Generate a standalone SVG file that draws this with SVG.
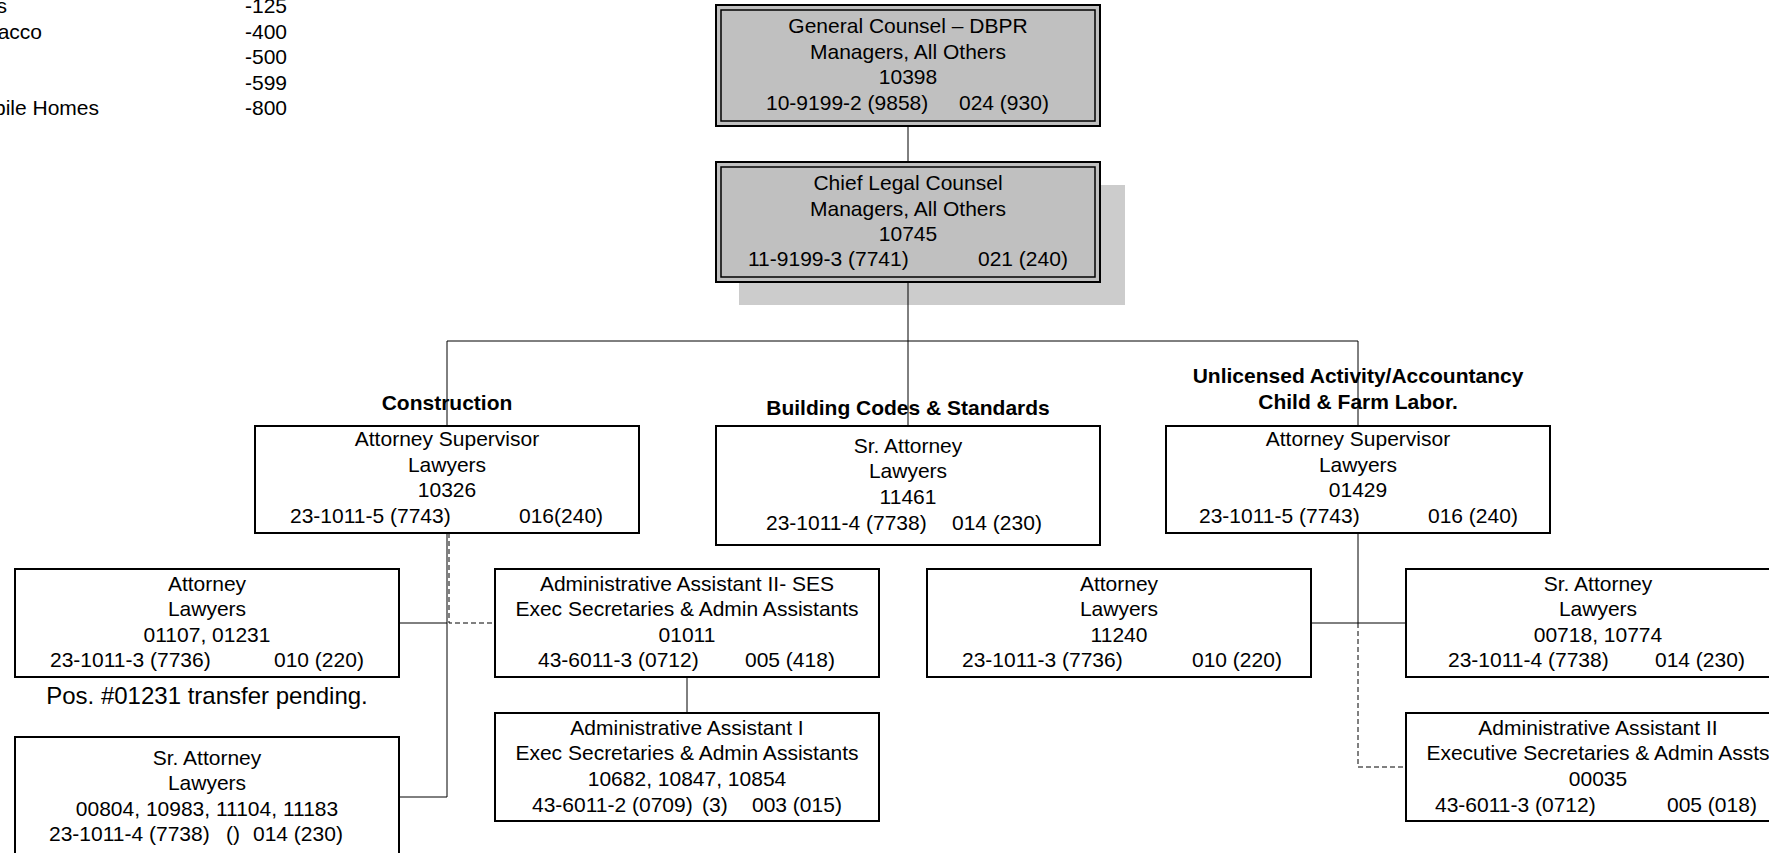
<svg xmlns="http://www.w3.org/2000/svg" width="1769" height="853" viewBox="0 0 1769 853">
<style>
text{font-family:"Liberation Sans",Arial,sans-serif;font-size:21px;fill:#000}
.c{text-anchor:middle}
.e{text-anchor:end}
.b{font-weight:bold}
.box{fill:#fff;stroke:#000;stroke-width:2}
.gbox{fill:#c0c0c0;stroke:#000;stroke-width:2}
.inner{fill:none;stroke:#000;stroke-width:1.5}
.ln{stroke:#000;stroke-width:1;fill:none}
.dash{stroke:#000;stroke-width:1;fill:none;stroke-dasharray:5,3}
</style>
<g id="legend">
<text class="e" x="7" y="13">s</text>
<text class="e" x="42" y="38.5">acco</text>
<text class="e" x="99" y="115">bile Homes</text>
<text x="245" y="13">-125</text>
<text x="245" y="38.5">-400</text>
<text x="245" y="64">-500</text>
<text x="245" y="89.5">-599</text>
<text x="245" y="115">-800</text>
</g>
<g id="gc">
<rect class="gbox" x="716" y="5" width="384" height="121"/>
<rect class="inner" x="721" y="10" width="374" height="111"/>
<text class="c" x="908" y="33">General Counsel – DBPR</text>
<text class="c" x="908" y="58.5">Managers, All Others</text>
<text class="c" x="908" y="84">10398</text>
<text x="766" y="110">10-9199-2 (9858)</text>
<text x="959" y="110">024 (930)</text>
</g>
<g id="clc">
<rect x="739" y="185" width="386" height="120" fill="#cccccc"/>
<rect class="gbox" x="716" y="162" width="384" height="120"/>
<rect class="inner" x="721" y="167" width="374" height="110"/>
<text class="c" x="908" y="190">Chief Legal Counsel</text>
<text class="c" x="908" y="215.5">Managers, All Others</text>
<text class="c" x="908" y="241">10745</text>
<text x="748" y="266">11-9199-3 (7741)</text>
<text x="978" y="266">021 (240)</text>
</g>
<g id="construction">
<text class="c b" x="447" y="410">Construction</text>
<rect class="box" x="255" y="426" width="384" height="107"/>
<text class="c" x="447" y="446">Attorney Supervisor</text>
<text class="c" x="447" y="471.5">Lawyers</text>
<text class="c" x="447" y="497">10326</text>
<text x="290" y="523">23-1011-5 (7743)</text>
<text x="519" y="523">016(240)</text>
</g>
<g id="building">
<text class="c b" x="908" y="414.5">Building Codes &amp; Standards</text>
<rect class="box" x="716" y="426" width="384" height="119"/>
<text class="c" x="908" y="452.5">Sr. Attorney</text>
<text class="c" x="908" y="478">Lawyers</text>
<text class="c" x="908" y="504">11461</text>
<text x="766" y="529.5">23-1011-4 (7738)</text>
<text x="952" y="529.5">014 (230)</text>
</g>
<g id="unlicensed">
<text class="c b" x="1358" y="383">Unlicensed Activity/Accountancy</text>
<text class="c b" x="1358" y="408.5">Child &amp; Farm Labor.</text>
<rect class="box" x="1166" y="426" width="384" height="107"/>
<text class="c" x="1358" y="446">Attorney Supervisor</text>
<text class="c" x="1358" y="471.5">Lawyers</text>
<text class="c" x="1358" y="497">01429</text>
<text x="1199" y="523">23-1011-5 (7743)</text>
<text x="1428" y="523">016 (240)</text>
</g>
<g id="attorney-01107">
<rect class="box" x="15" y="569" width="384" height="108"/>
<text class="c" x="207" y="590.5">Attorney</text>
<text class="c" x="207" y="616">Lawyers</text>
<text class="c" x="207" y="641.5">01107, 01231</text>
<text x="50" y="667">23-1011-3 (7736)</text>
<text x="274" y="667">010 (220)</text>
<text class="c" x="207" y="704" style="font-size:24px">Pos. #01231 transfer pending.</text>
</g>
<g id="admin-ses">
<rect class="box" x="495" y="569" width="384" height="108"/>
<text class="c" x="687" y="590.5">Administrative Assistant II- SES</text>
<text class="c" x="687" y="616">Exec Secretaries &amp; Admin Assistants</text>
<text class="c" x="687" y="641.5">01011</text>
<text x="538" y="667">43-6011-3 (0712)</text>
<text x="745" y="667">005 (418)</text>
</g>
<g id="admin-i">
<rect class="box" x="495" y="713" width="384" height="108"/>
<text class="c" x="687" y="734.5">Administrative Assistant I</text>
<text class="c" x="687" y="760">Exec Secretaries &amp; Admin Assistants</text>
<text class="c" x="687" y="785.5">10682, 10847, 10854</text>
<text x="532" y="811.5">43-6011-2 (0709)</text>
<text x="702" y="811.5">(3)</text>
<text x="752" y="811.5">003 (015)</text>
</g>
<g id="sr-attorney-left">
<rect class="box" x="15" y="737" width="384" height="122"/>
<text class="c" x="207" y="764.5">Sr. Attorney</text>
<text class="c" x="207" y="790">Lawyers</text>
<text class="c" x="207" y="815.5">00804, 10983, 11104, 11183</text>
<text x="49" y="841">23-1011-4 (7738)</text>
<text x="226" y="841">()</text>
<text x="253" y="841">014 (230)</text>
</g>
<g id="attorney-11240">
<rect class="box" x="927" y="569" width="384" height="108"/>
<text class="c" x="1119" y="590.5">Attorney</text>
<text class="c" x="1119" y="616">Lawyers</text>
<text class="c" x="1119" y="641.5">11240</text>
<text x="962" y="667">23-1011-3 (7736)</text>
<text x="1192" y="667">010 (220)</text>
</g>
<g id="sr-attorney-right">
<rect class="box" x="1406" y="569" width="384" height="108"/>
<text class="c" x="1598" y="590.5">Sr. Attorney</text>
<text class="c" x="1598" y="616">Lawyers</text>
<text class="c" x="1598" y="641.5">00718, 10774</text>
<text x="1448" y="667">23-1011-4 (7738)</text>
<text x="1655" y="667">014 (230)</text>
</g>
<g id="admin-ii-right">
<rect class="box" x="1406" y="713" width="384" height="108"/>
<text class="c" x="1598" y="734.5">Administrative Assistant II</text>
<text class="c" x="1598" y="760">Executive Secretaries &amp; Admin Assts</text>
<text class="c" x="1598" y="786">00035</text>
<text x="1435" y="811.5">43-6011-3 (0712)</text>
<text x="1667" y="811.5">005 (018)</text>
</g>
<g id="connectors">
<line class="ln" x1="908" y1="126" x2="908" y2="162"/>
<line class="ln" x1="908" y1="282" x2="908" y2="426" stroke-width="1.5"/>
<line class="ln" x1="447" y1="341" x2="1358" y2="341"/>
<line class="ln" x1="447" y1="341" x2="447" y2="426"/>
<line class="ln" x1="1358" y1="341" x2="1358" y2="426"/>
<line class="ln" x1="447" y1="533" x2="447" y2="797"/>
<line class="ln" x1="399" y1="623" x2="447" y2="623"/>
<line class="ln" x1="399" y1="797" x2="447" y2="797"/>
<polyline class="dash" points="449,533 449,623 495,623"/>
<line class="ln" x1="687" y1="677" x2="687" y2="713"/>
<line class="ln" x1="1358" y1="533" x2="1358" y2="623"/>
<line class="ln" x1="1311" y1="623" x2="1406" y2="623"/>
<polyline class="dash" points="1358,623 1358,767 1406,767"/>
</g>
</svg>
